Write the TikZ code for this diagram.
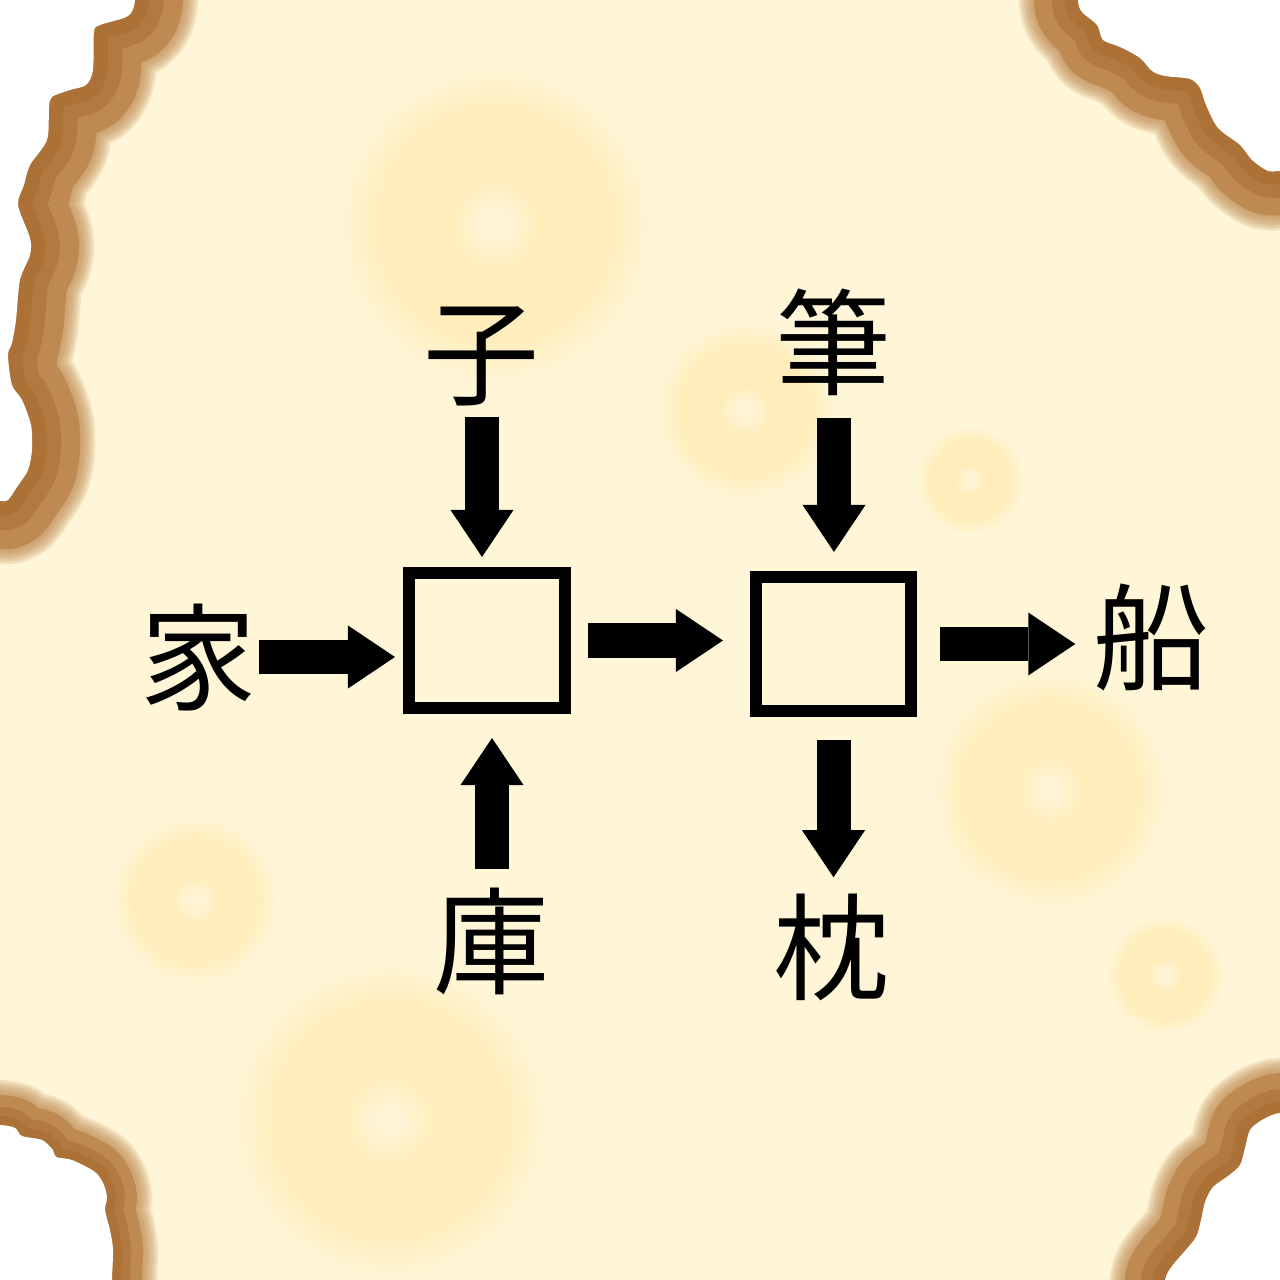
\documentclass[tikz,border=0pt]{standalone}
\usepackage{fontspec}
\usepackage{tikz}
\usetikzlibrary{arrows.meta}
\newfontfamily\kanji{Noto Sans CJK JP}

\definecolor{paper}{RGB}{255,246,216}
\definecolor{spotc}{RGB}{255,238,188}
\definecolor{spotmid}{RGB}{255,244,214}
\definecolor{burnlt}{RGB}{190,138,82}
\definecolor{burndk}{RGB}{168,106,48}
\pgfdeclareradialshading{spot}{\pgfpoint{0cm}{0cm}}{color(0bp)=(spotmid); color(2bp)=(spotmid); color(7bp)=(spotc); color(18bp)=(spotc); color(25bp)=(paper); color(50bp)=(paper)}

% borde quemado de una esquina
\newcommand\scorch[2]{%
  \foreach \k in {1,...,6}
    \draw[burnlt, opacity=.2, line width=#1*0.02cm+\k*0.05cm, line join=round] #2;
  \draw[burnlt, line width=#1*0.02cm, line join=round] #2;
  \draw[burndk, opacity=.5, line width=#1*0.012cm, line join=round] #2;
  \draw[burndk, opacity=.5, line width=#1*0.006cm, line join=round] #2;
  \fill[white] #2;}

\begin{document}
\begin{tikzpicture}[x=0.01cm, y=-0.01cm,
    lbl/.style={font=\kanji\fontsize{33}{33}\selectfont, inner sep=0pt,
      text height=1.02cm, text depth=0.14cm, minimum width=1.16cm},
    blank/.style={draw, line width=0.12cm, inner sep=0pt, outer sep=0pt},
    push/.style={line width=0.34cm, -{Triangle[width=0.63cm, length=0.47cm, line width=0pt]}}]
  \useasboundingbox (0,0) rectangle (1280,1280);
  \clip (0,0) rectangle (1280,1280);

  % Fondo
  \fill[paper] (0,0) rectangle (1280,1280);
  \foreach \x/\y/\r in {495/225/1.6, 745/410/0.9, 970/480/0.55, 1050/790/1.2,
                        1165/975/0.6, 195/900/0.85, 390/1120/1.6}
    \shade[shading=spot] (\x,\y) circle [radius=\r cm];

  \scorch{48}{plot[smooth] coordinates {(135,-40) (135,0) (128,16) (100,25) (94,32) (93,70) (86,85) (70,90)
    (52,97) (49,108) (47,140) (30,165) (24,185) (18,205) (30,238) (30,255) (20,280) (16,320) (12,343)
    (8,355) (12,385) (22,400) (31,425) (32,450) (28,470) (17,487) (8,500) (0,501) (-40,501)} -- (-60,-60) -- cycle}
  \scorch{44}{plot[smooth] coordinates {(1078,-40) (1078,0) (1082,12) (1097,25) (1103,40) (1120,47) (1140,58)
    (1152,71) (1165,76) (1190,79) (1200,88) (1206,105) (1218,128) (1240,145) (1252,160) (1268,171) (1280,171)
    (1320,171)} -- (1340,-60) -- cycle}
  \scorch{30}{plot[smooth] coordinates {(-40,1125) (0,1125) (15,1128) (22,1136) (42,1140) (53,1150) (56,1157)
    (72,1160) (95,1172) (104,1185) (107,1198) (105,1210) (110,1230) (113,1250) (112,1280) (112,1320)}
    -- (-60,1340) -- cycle}
  \scorch{40}{plot[smooth] coordinates {(1320,1113) (1280,1113) (1262,1120) (1250,1130) (1245,1148)
    (1240,1165) (1228,1176) (1213,1187) (1205,1202) (1201,1220) (1196,1237) (1184,1252) (1172,1266)
    (1165,1280) (1160,1320)} -- (1340,1340) -- cycle}

  % Nodos
  \node[lbl] (jia) at (199,657) {家};
  \node[lbl] (zi) at (482,352) {子};
  \node[lbl] (ku) at (492,941) {庫};
  \node[lbl] (bi) at (834,342) {筆};
  \node[lbl] (zhen) at (832,947) {枕};
  \node[lbl] (chuan) at (1151,637) {船};
  \node[blank, minimum width=1.56cm, minimum height=1.35cm] (box1) at (487,640.5) {};
  \node[blank, minimum width=1.55cm, minimum height=1.34cm] (box2) at (833.5,644) {};

  % Flechas
  \draw[push, shorten <=0.01cm, shorten >=0.14cm] (jia.east) -- (jia.east -| box1.west);
  \draw[push, shorten <=0.06cm, shorten >=0.16cm] (zi.south) -- (zi.south |- box1.north);
  \draw[push, shorten <=0.13cm, shorten >=0.30cm] (ku.north) -- (ku.north |- box1.south);
  \draw[push, shorten <=0.23cm, shorten >=0.33cm] (box1.east) -- (box1.east -| box2.west);
  \draw[push, shorten <=0.17cm, shorten >=0.25cm] (bi.south) -- (bi.south |- box2.north);
  \draw[push, shorten <=0.29cm, shorten >=0.17cm] (box2.east) -- (box2.east -| chuan.west);
  \draw[push, shorten <=0.29cm, shorten >=0.11cm] (box2.south) -- (box2.south |- zhen.north);
\end{tikzpicture}
\end{document}
